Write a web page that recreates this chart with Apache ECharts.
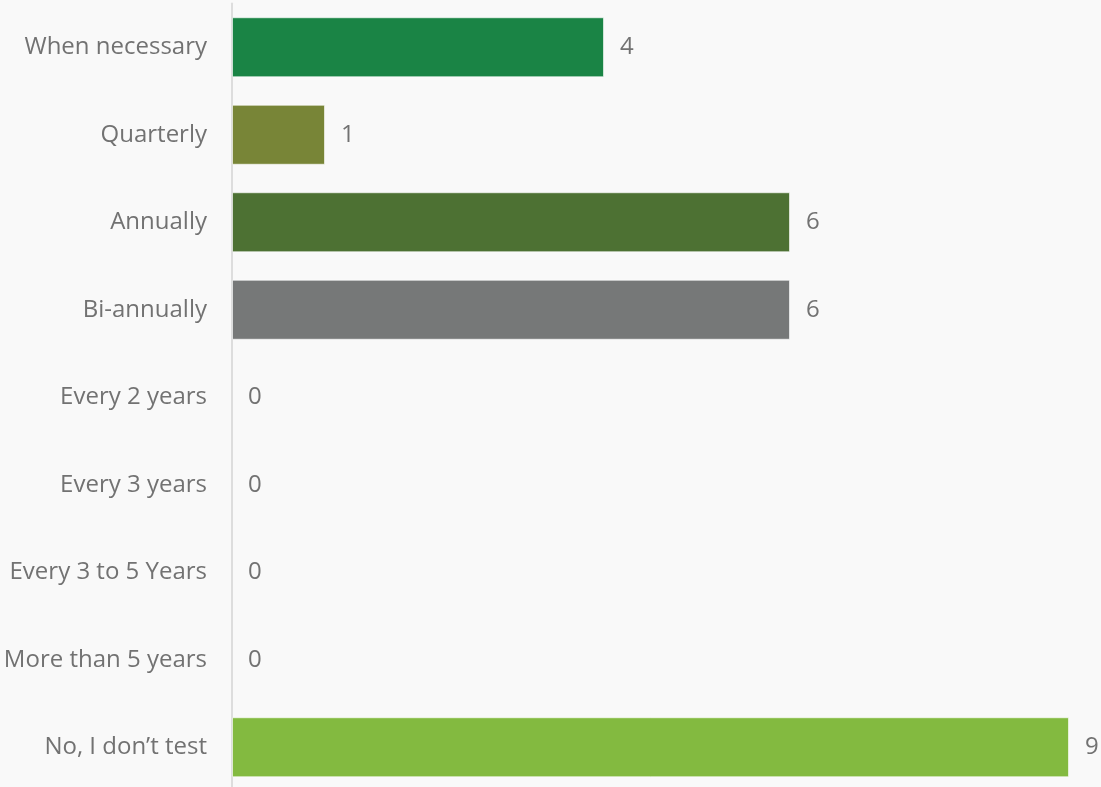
<!DOCTYPE html>
<html>
<head>
<meta charset="utf-8">
<style>
  html, body { margin: 0; padding: 0; background: #f9f9f9; overflow: hidden; }
  #chart { width: 1101px; height: 792px; }
</style>
<script src="https://cdn.jsdelivr.net/npm/echarts@6/dist/echarts.min.js"></script>
</head>
<body>
<div id="chart"></div>
<script>
const categories = [
  'When necessary', 'Quarterly', 'Annually', 'Bi-annually', 'Every 2 years',
  'Every 3 years', 'Every 3 to 5 Years', 'More than 5 years', 'No, I don\u2019t test'
];
const counts = [4, 1, 6, 6, 0, 0, 0, 0, 9];
const barColors = ['#1a8445', '#788537', '#4d7133', '#767878', '#767878',
  '#767878', '#767878', '#767878', '#83ba40'];

const TEXT = '#727272';
const chart = echarts.init(document.getElementById('chart'));
chart.setOption({
  backgroundColor: '#f9f9f9',
  animation: false,
  grid: { left: 232, right: 32, top: 3.5, height: 787.5, containLabel: false },
  xAxis: {
    type: 'value', min: 0, max: 9,
    show: false
  },
  yAxis: {
    type: 'category',
    inverse: true,
    data: categories,
    axisLine: { show: true, lineStyle: { color: '#dddddd', width: 2 } },
    axisTick: { show: false },
    axisLabel: { color: TEXT, fontSize: 24, fontFamily: 'Open Sans', margin: 25 }
  },
  series: [{
    type: 'bar',
    barWidth: 60,
    data: counts.map((v, i) => ({
      value: v,
      itemStyle: {
        color: barColors[i],
        borderColor: 'rgba(255,255,255,0.6)',
        borderWidth: v > 0 ? 1 : 0
      }
    })),
    label: {
      show: true, position: 'right', distance: 16,
      color: TEXT, fontSize: 24, fontFamily: 'Open Sans'
    }
  }]
});
</script>
</body>
</html>
